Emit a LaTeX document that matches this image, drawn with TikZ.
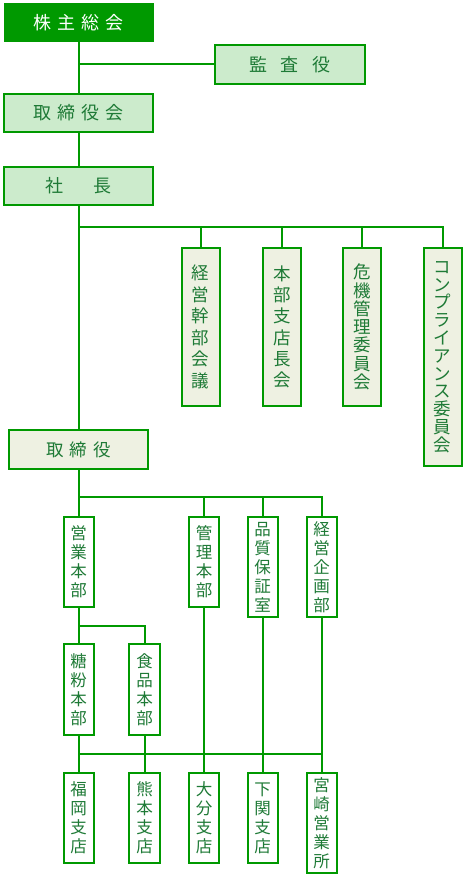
\documentclass[tikz,border=0pt]{standalone}
\usepackage{fontspec}
\setmainfont{Noto Sans CJK JP}
\definecolor{gborder}{HTML}{009900}
\definecolor{gfill}{HTML}{CCEBCC}
\definecolor{bfill}{HTML}{EEF1E2}
\definecolor{gtext}{HTML}{1E7A36}
\newcommand\gp[1]{\hspace{#1pt}}
\tikzset{
  box/.style={draw=gborder, line width=2pt, inner sep=0pt, outer sep=0pt, text=gtext, align=center, anchor=center},
  hbox/.style={box, font=\fontsize{18pt}{20pt}\selectfont},
  vbox/.style={box, fill=bfill, minimum width=38pt},
  sbox/.style={box, fill=white, font=\fontsize{16.5pt}{19pt}\selectfont}
}
\tikzset{conn/.style={draw=gborder, line width=2pt}}
\begin{document}
\begin{tikzpicture}[x=1pt,y=-1pt]
\useasboundingbox (0,0) rectangle (465,875);
% top level
\node[hbox, fill=gborder, text=white, minimum width=148pt, minimum height=37pt] (kabu) at (78.5,22.5) {株\gp{6}主\gp{6}総\gp{6}会};
\node[hbox, fill=gfill, minimum width=150pt, minimum height=39pt] (kansa) at (290,64.5) {監\gp{14}査\gp{14}役};
\node[hbox, fill=gfill, minimum width=149pt, minimum height=38pt] (torikai) at (78.5,113) {取\gp{6}締\gp{6}役\gp{6}会};
\node[hbox, fill=gfill, minimum width=149pt, minimum height=38pt] (shacho) at (78.5,186) {社\gp{30}長};
% committees
\node[vbox, font=\fontsize{17.5pt}{21.6pt}\selectfont, minimum height=158pt] (keiei) at (200.5,327) {経\\営\\幹\\部\\会\\議};
\node[vbox, font=\fontsize{17.5pt}{21.3pt}\selectfont, minimum height=158pt] (honbu) at (282,327) {本\\部\\支\\店\\長\\会};
\node[vbox, font=\fontsize{17.5pt}{18.3pt}\selectfont, minimum height=158pt] (kiki) at (362,327) {危\\機\\管\\理\\委\\員\\会};
\node[vbox, font=\fontsize{17.5pt}{17.8pt}\selectfont, minimum height=218pt] (comp) at (442.5,357) {コ\\ン\\プ\\ラ\\イ\\ア\\ン\\ス\\委\\員\\会};
% directors
\node[box, fill=bfill, font=\fontsize{17.5pt}{20pt}\selectfont, minimum width=139pt, minimum height=39pt] (tori) at (78.5,449.5) {取\gp{6}締\gp{6}役};
% divisions
\node[sbox, minimum width=30pt, minimum height=90pt] (eigyo) at (78.5,562) {営\\業\\本\\部};
\node[sbox, minimum width=30pt, minimum height=90pt] (kanri) at (204,562) {管\\理\\本\\部};
\node[sbox, minimum width=30pt, minimum height=100pt] (hinshitsu) at (262.5,567) {品\\質\\保\\証\\室};
\node[sbox, minimum width=30pt, minimum height=100pt] (kikaku) at (321.5,567) {経\\営\\企\\画\\部};
\node[sbox, minimum width=30pt, minimum height=91pt] (toufun) at (78.5,689.5) {糖\\粉\\本\\部};
\node[sbox, minimum width=31pt, minimum height=91pt] (shokuhin) at (144.5,689.5) {食\\品\\本\\部};
% branches
\node[sbox, minimum width=30pt, minimum height=90pt] (fukuoka) at (78.5,818) {福\\岡\\支\\店};
\node[sbox, minimum width=31pt, minimum height=90pt] (kumamoto) at (144.5,818) {熊\\本\\支\\店};
\node[sbox, minimum width=30pt, minimum height=90pt] (oita) at (204,818) {大\\分\\支\\店};
\node[sbox, minimum width=30pt, minimum height=90pt] (shimo) at (262.5,818) {下\\関\\支\\店};
\node[sbox, minimum width=30pt, minimum height=100pt] (miyazaki) at (321.5,823) {宮\\崎\\営\\業\\所};
% junctions
\coordinate (j1) at (78.5,227);
\coordinate (j2) at (78.5,497);
\coordinate (j3) at (78.5,626);
\coordinate (j4) at (78.5,754);
% connectors
\draw[conn] (kabu.south) -- (torikai.north);
\draw[conn] (kansa.west) -- (kansa.west -| kabu.south);
\draw[conn] (torikai.south) -- (shacho.north);
\draw[conn] (shacho.south) -- (tori.north);
\draw[conn] (j1) -| (comp.north);
\draw[conn] (keiei.north) -- (keiei.north |- j1);
\draw[conn] (honbu.north) -- (honbu.north |- j1);
\draw[conn] (kiki.north) -- (kiki.north |- j1);
\draw[conn] (tori.south) -- (eigyo.north);
\draw[conn] (j2) -| (kikaku.north);
\draw[conn] (kanri.north) -- (kanri.north |- j2);
\draw[conn] (hinshitsu.north) -- (hinshitsu.north |- j2);
\draw[conn] (eigyo.south) -- (toufun.north);
\draw[conn] (j3) -| (shokuhin.north);
\draw[conn] (toufun.south) -- (fukuoka.north);
\draw[conn] (shokuhin.south) -- (kumamoto.north);
\draw[conn] (kanri.south) -- (oita.north);
\draw[conn] (hinshitsu.south) -- (shimo.north);
\draw[conn] (kikaku.south) -- (miyazaki.north);
\draw[conn] (j4) -- (j4 -| miyazaki.north);
\end{tikzpicture}
\end{document}
